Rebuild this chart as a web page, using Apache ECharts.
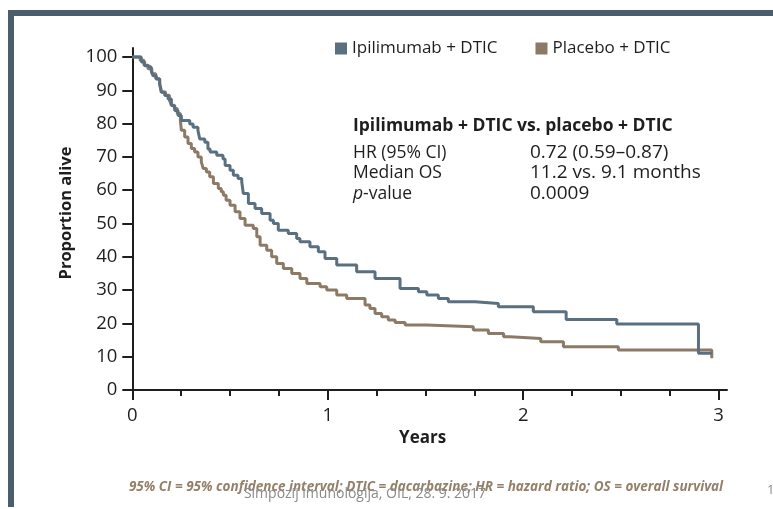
<!DOCTYPE html>
<html><head><meta charset="utf-8">
<script src="https://cdn.jsdelivr.net/npm/echarts@6/dist/echarts.min.js"></script>
<style>html,body{margin:0;padding:0;background:#fff}#c{width:773px;height:509px}</style>
</head><body><div id="c"></div><script>
// Kaplan-Meier step points (years, % alive)
const ipiTimes = [0,0.046,0.063,0.08,0.097,0.106,0.123,0.14,0.148,0.166,0.183,0.20,0.217,0.234,0.251,0.294,0.311,0.336,0.345,0.371,0.387,0.398,0.432,0.464,0.475,0.50,0.517,0.541,0.56,0.568,0.594,0.628,0.662,0.705,0.722,0.747,0.798,0.841,0.858,0.909,0.952,0.986,1.046,1.148,1.242,1.37,1.464,1.507,1.566,1.617,1.754,1.873,2.052,2.22,2.479,2.897,2.965];
const ipiSurv  = [100,98.5,97.4,96.9,95.9,94.4,93.4,91.9,89.4,88.4,87.4,85.4,83.9,82.4,80.9,79.9,78.9,77.9,75.4,74.4,72.4,71.5,70.5,69.4,67.4,66,64.5,63.5,62.5,59,56,54.5,53,51,50,48,47,45.5,44.5,43,41.5,39.5,37.5,35.5,33.5,30.5,29.5,28.5,27.5,26.5,26,25,23.5,21.2,19.8,11,11];
const plaTimes = [0,0.04,0.06,0.08,0.10,0.12,0.14,0.15,0.17,0.19,0.20,0.215,0.23,0.246,0.251,0.268,0.285,0.302,0.319,0.336,0.353,0.363,0.379,0.396,0.415,0.44,0.455,0.466,0.48,0.50,0.526,0.551,0.577,0.619,0.637,0.654,0.688,0.713,0.739,0.773,0.816,0.858,0.893,0.961,0.995,1.046,1.097,1.191,1.216,1.242,1.276,1.310,1.345,1.396,1.507,1.745,1.822,1.90,1.933,2.09,2.206,2.487,2.965];
const plaSurv  = [100,99,97.5,96.5,95,93.5,92,89.5,88.5,87,85.5,84.5,83,81,78,76,74,72.5,71.5,70,68.5,66.5,65.5,64,62,60.5,59.5,58.5,57,55.5,53.5,51.5,49.5,48.5,46,43.5,42,40,38,36.5,35,33.5,32,31,30,28.5,27.5,25.5,24.5,23,22,21,20.3,19.5,19,18,17,16,15.5,14.5,13,12,9.5];
const seriesNames = ['Ipilimumab + DTIC', 'Placebo + DTIC'];
const xLabels = [0, 1, 2, 3];
const xMinorTicks = [0.25, 0.5, 0.75, 1.25, 1.5, 1.75, 2.25, 2.5, 2.75];
const yLabels = [0, 10, 20, 30, 40, 50, 60, 70, 80, 90, 100];
const statsTitle = 'Ipilimumab + DTIC vs. placebo + DTIC';
const statsRows = ['HR (95% CI)', 'Median OS', '{i|p}-value'];
const statsValues = ['0.72 (0.59–0.87)', '11.2 vs. 9.1 months', '0.0009'];
const footnote = '95% CI = 95% confidence interval; DTIC = dacarbazine; HR = hazard ratio; OS = overall survival';
const watermark = 'Simpozij imunologija, OIL, 28. 9. 2017';

const FONT = 'Open Sans';
const BLUE = '#5a7080';
const BROWN = '#8c7a66';
const FRAME = '#4b5e6e';
const INK = '#1e1e1e';

const chart = echarts.init(document.getElementById('c'), null, {renderer: 'canvas'});
const toPairs = (ts, vs) => ts.map((t, i) => [t, vs[i]]);

const textEl = (x, y, text, extra) => Object.assign({
  type: 'text', x: x, y: y, silent: true,
  style: Object.assign({text: text, font: '17px "' + FONT + '"', fill: INK, textVerticalAlign: 'middle'}, extra || {})
});

const rowY = [153, 173, 194];
const graphics = [
  {type: 'rect', shape: {x: 8, y: 10, width: 765, height: 6}, style: {fill: FRAME}, silent: true},
  {type: 'rect', shape: {x: 8, y: 10, width: 6, height: 497}, style: {fill: FRAME}, silent: true},
  textEl(353, 126, statsTitle, {font: 'bold 17.5px "' + FONT + '"'})
];
statsRows.forEach((r, i) => {
  graphics.push({type: 'text', x: 353, y: rowY[i], silent: true,
    style: {text: r, font: '17.5px "' + FONT + '"', fill: INK, textVerticalAlign: 'middle',
      rich: {i: {fontStyle: 'italic', fontFamily: FONT, fontSize: 17.5, fill: INK}}}});
  graphics.push(textEl(530, rowY[i], statsValues[i], {font: '19px "' + FONT + '"'}));
});
graphics.push(textEl(426, 487, footnote, {font: 'italic bold 13.5px "' + FONT + '"', fill: '#94806a', textAlign: 'center'}));
graphics.push(textEl(365, 494, watermark, {font: '14px "' + FONT + '"', fill: '#8a8a8a', textAlign: 'center'}));
graphics.push(textEl(767, 490, '1', {font: '13px "' + FONT + '"', fill: '#8a8a8a'}));

chart.setOption({
  animation: false,
  backgroundColor: '#ffffff',
  textStyle: {fontFamily: FONT},
  grid: {left: 132.3, right: 46, top: 48, bottom: 119, containLabel: false, outerBoundsMode: 'none'},
  legend: {
    data: seriesNames, left: 330, top: 35, icon: 'rect', itemWidth: 12, itemHeight: 12, itemGap: 38,
    textStyle: {fontSize: 17, color: INK, fontFamily: FONT}
  },
  xAxis: [{
    type: 'value', min: 0, max: 3.043, position: 'bottom',
    name: 'Years', nameLocation: 'middle', nameGap: 35,
    nameTextStyle: {fontSize: 17, fontWeight: 'bold', color: INK, padding: [0, 14, 0, 0]},
    axisLine: {show: true, onZero: false, lineStyle: {color: INK, width: 2}},
    axisTick: {show: true, customValues: xLabels, length: 10, lineStyle: {color: INK, width: 2}},
    axisLabel: {customValues: xLabels, margin: 16, fontSize: 18.5, color: INK},
    splitLine: {show: false}
  }, {
    type: 'value', min: 0, max: 3.043, position: 'bottom',
    axisLine: {show: false},
    axisTick: {show: true, customValues: xMinorTicks, length: 6, lineStyle: {color: INK, width: 2}},
    axisLabel: {show: false}, splitLine: {show: false}
  }],
  yAxis: {
    type: 'value', min: 0, max: 102.7,
    name: 'Proportion alive', nameLocation: 'middle', nameGap: 54,
    nameTextStyle: {fontSize: 16.5, fontWeight: 'bold', color: INK, padding: [0, 0, 0, 12]},
    axisLine: {show: true, lineStyle: {color: INK, width: 2}},
    axisTick: {show: true, customValues: yLabels, length: 10, lineStyle: {color: INK, width: 2}},
    axisLabel: {customValues: yLabels, margin: 15, fontSize: 18.5, color: INK},
    splitLine: {show: false}
  },
  series: [{
    name: seriesNames[0], type: 'line', step: 'end', showSymbol: false, z: 4,
    data: toPairs(ipiTimes, ipiSurv), color: BLUE,
    lineStyle: {color: BLUE, width: 3}
  }, {
    name: seriesNames[1], type: 'line', step: 'end', showSymbol: false, z: 3,
    data: toPairs(plaTimes, plaSurv), color: BROWN,
    lineStyle: {color: BROWN, width: 3}
  }],
  graphic: graphics
});
</script></body></html>
